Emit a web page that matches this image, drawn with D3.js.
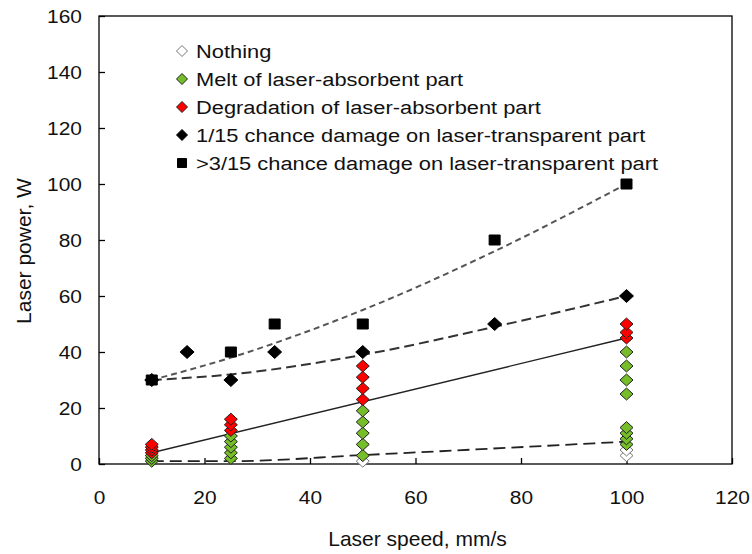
<!DOCTYPE html>
<html>
<head>
<meta charset="utf-8">
<script src="https://cdn.jsdelivr.net/npm/d3@7"></script>
<style>
	body { margin: 0; background: #fff; }
	svg { display: block; font-family: 'Liberation Sans', Arial, sans-serif; }
</style>
</head>
<body>
<div id="chart"></div>
<script>
// markers: [speed mm/s, power W]
const nothing = [[50, 1], [100, 3], [100, 5]];
const melt = [[10, 1], [10, 2], [10, 3],
	[25, 2], [25, 4], [25, 6], [25, 8], [25, 10],
	[50, 3], [50, 7], [50, 11], [50, 15], [50, 19],
	[100, 7], [100, 9], [100, 11], [100, 13], [100, 25], [100, 30], [100, 35], [100, 40]];
const degradation = [[10, 4], [10, 5], [10, 6], [10, 7],
	[25, 12], [25, 14], [25, 16],
	[50, 23], [50, 27], [50, 31], [50, 35],
	[100, 45], [100, 47], [100, 50]];
const damage1 = [[10, 30], [16.7, 40], [25, 30], [33.3, 40], [50, 40], [75, 50], [100, 60]];
const damage3 = [[10, 30], [25, 40], [33.3, 50], [50, 50], [75, 80], [100, 100]];

// trend lines
const trendNothing = [[10, 1], [25, 1], [50, 3.2], [100, 8]];
const trendMelt = [[10, 4], [100, 45]];
const trendDamage1 = [[10, 30], [25, 32], [50, 39], [75, 49], [100, 60]];
const trendDamage3 = [[10, 30], [25, 38], [50, 55], [75, 76], [100, 100]];

const legendLabels = ["Nothing", "Melt of laser-absorbent part", "Degradation of laser-absorbent part",
	"1/15 chance damage on laser-transparent part", ">3/15 chance damage on laser-transparent part"];

const xTicks = [0, 20, 40, 60, 80, 100, 120];
const yTicks = [0, 20, 40, 60, 80, 100, 120, 140, 160];

const width = 752, height = 554;
const plot = { left: 99, right: 732, top: 16, bottom: 464 };

const svg = d3.select("#chart").append("svg")
	.attr("width", width)
	.attr("height", height);

const x = d3.scaleLinear().domain([0, 120]).range([plot.left, plot.right]);
const y = d3.scaleLinear().domain([0, 160]).range([plot.bottom, plot.top]);

// plot frame
svg.append("rect")
	.attr("x", plot.left).attr("y", plot.top)
	.attr("width", plot.right - plot.left).attr("height", plot.bottom - plot.top)
	.attr("fill", "none").attr("stroke", "#000").attr("stroke-width", 1.3);

const yAxis = svg.append("g")
	.attr("transform", `translate(${plot.left},0)`)
	.call(d3.axisLeft(y).tickValues(yTicks).tickSize(-6).tickPadding(17));
yAxis.selectAll("text")
	.attr("x", null)
	.attr("transform", "translate(-17,0) scale(1.1,1)");

const xAxis = svg.append("g")
	.attr("transform", `translate(0,${plot.bottom})`)
	.call(d3.axisBottom(x).tickValues(xTicks).tickSize(-6).tickPadding(27));
xAxis.selectAll("text").attr("transform", "scale(1.1,1)");

[yAxis, xAxis].forEach(a => {
	a.select(".domain").remove();
	a.selectAll("line").attr("stroke", "#000").attr("stroke-width", 1.3);
	a.selectAll("text").attr("font-size", 19).attr("fill", "#111")
		.style("font-family", "'Liberation Sans', Arial, sans-serif");
});

svg.append("text")
	.attr("x", (plot.left + plot.right) / 2 + 2)
	.attr("y", 546)
	.attr("text-anchor", "middle")
	.attr("font-size", 21)
	.attr("fill", "#111")
	.text("Laser speed, mm/s");

svg.append("text")
	.attr("transform", "translate(31,251) rotate(-90)")
	.attr("text-anchor", "middle")
	.attr("font-size", 21)
	.attr("fill", "#111")
	.text("Laser power, W");

// trend lines
const line = d3.line().x(d => x(d[0])).y(d => y(d[1])).curve(d3.curveMonotoneX);
const trends = [
	{ data: trendNothing, dash: "12,6", color: "#222", w: 1.8 },
	{ data: trendMelt, dash: null, color: "#222", w: 1.4 },
	{ data: trendDamage1, dash: "10,5", color: "#333", w: 2 },
	{ data: trendDamage3, dash: "6,4", color: "#555", w: 2 }
];
svg.append("g").selectAll("path")
	.data(trends)
	.join("path")
	.attr("d", d => line(d.data))
	.attr("fill", "none")
	.attr("stroke", d => d.color)
	.attr("stroke-width", d => d.w)
	.attr("stroke-dasharray", d => d.dash);

// marker shapes
const diamond = (w, h) => `M0,${-h}L${w},0L0,${h}L${-w},0Z`;
const series = [
	{ data: nothing, shape: diamond(6.5, 6), fill: "#fff", stroke: "#777" },
	{ data: melt, shape: diamond(6.5, 6), fill: "#76bd2a", stroke: "#222" },
	{ data: degradation, shape: diamond(6.5, 6), fill: "#ff0000", stroke: "#222" },
	{ data: damage1, shape: diamond(7, 6.5), fill: "#000", stroke: "#000" },
	{ data: damage3, shape: "M-5.5,-5H5.5V5H-5.5Z", fill: "#000", stroke: "#000" }
];

series.forEach(s => {
	svg.append("g").selectAll("path")
		.data(s.data)
		.join("path")
		.attr("transform", d => `translate(${x(d[0])},${y(d[1])})`)
		.attr("d", s.shape)
		.attr("fill", s.fill)
		.attr("stroke", s.stroke)
		.attr("stroke-width", 1);
});

// legend
const legendX = 182, legendY = 51, legendStep = 28;
const legend = svg.append("g").selectAll("g")
	.data(series)
	.join("g")
	.attr("transform", (d, i) => `translate(${legendX},${legendY + i * legendStep})`);

legend.append("path")
	.attr("d", (d, i) => i == 4 ? "M-4.5,-4.5H4.5V4.5H-4.5Z" : diamond(5.5, 5.5))
	.attr("fill", d => d.fill)
	.attr("stroke", d => d.stroke)
	.attr("stroke-width", 1);

legend.append("text")
	.attr("transform", "translate(14,0) scale(1.15,1)")
	.attr("dy", "0.35em")
	.attr("font-size", 19)
	.attr("fill", "#111")
	.text((d, i) => legendLabels[i]);
</script>
</body>
</html>
